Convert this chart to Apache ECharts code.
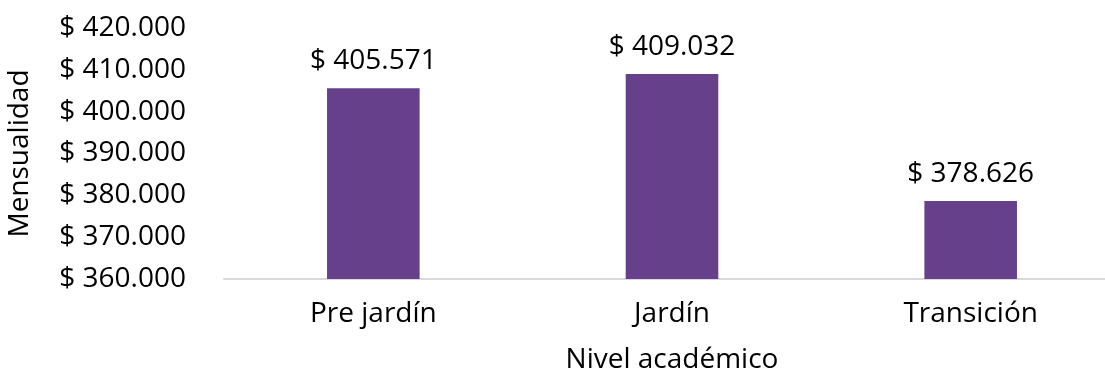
<!DOCTYPE html>
<html>
<head>
<meta charset="utf-8">
<script src="https://cdn.jsdelivr.net/npm/echarts@6/dist/echarts.min.js"></script>
<style>
  html, body { margin: 0; padding: 0; background: #ffffff; }
  #chart { width: 1105px; height: 370px; }
</style>
</head>
<body>
<div id="chart"></div>
<script>
// Mensualidad promedio por nivel académico
const categories = ['Pre jardín', 'Jardín', 'Transición'];
const mensualidad = [405571, 409032, 378626];
const yMin = 360000;
const yMax = 420000;
const yStep = 10000;

const FONT = '"Open Sans"';
const WEIGHT = 400;
const TEXT = '#000000';
const BAR = '#66408B';
const FS = 28;

// "$ 405.571" — peso format with dot thousands separator
function peso(v) {
  return '$ ' + String(Math.round(v)).replace(/\B(?=(\d{3})+(?!\d))/g, '.');
}

const txt = { fontFamily: FONT, fontWeight: WEIGHT, fontSize: FS, color: TEXT };

const chart = echarts.init(document.getElementById('chart'), null, { renderer: 'canvas' });
chart.setOption({
  animation: false,
  backgroundColor: '#ffffff',
  grid: {
    left: 224, right: -15, top: 28, bottom: 91,
    containLabel: false,
    outerBoundsMode: 'none'
  },
  xAxis: {
    type: 'category',
    data: categories,
    name: 'Nivel académico',
    nameLocation: 'middle',
    nameGap: 67,
    nameTextStyle: txt,
    axisLine: { show: true, lineStyle: { color: '#d9d9d9', width: 2 } },
    axisTick: { show: false },
    axisLabel: Object.assign({ margin: 21 }, txt)
  },
  yAxis: {
    type: 'value',
    min: yMin,
    max: yMax,
    interval: yStep,
    name: 'Mensualidad',
    nameLocation: 'middle',
    nameGap: 190,
    nameRotate: 90,
    nameTextStyle: txt,
    axisLine: { show: false },
    axisTick: { show: false },
    splitLine: { show: false },
    axisLabel: Object.assign({ margin: 38, formatter: peso }, txt)
  },
  series: [{
    type: 'bar',
    data: mensualidad,
    barWidth: '31%',
    itemStyle: { color: BAR },
    label: Object.assign({
      show: true,
      position: 'top',
      distance: 13,
      formatter: p => peso(p.value)
    }, txt)
  }]
});
</script>
</body>
</html>
